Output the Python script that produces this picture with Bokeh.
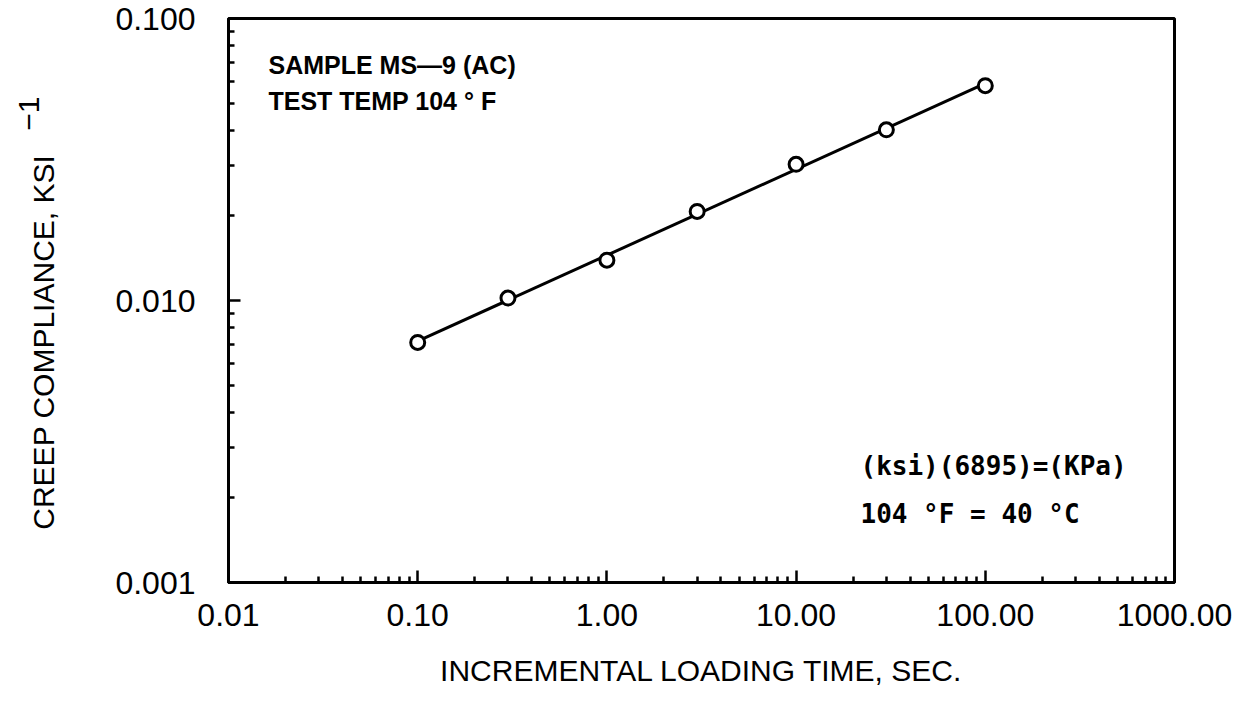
import numpy as np
from bokeh.plotting import figure
from bokeh.models import FixedTicker, PrintfTickFormatter, Label, Title
from bokeh.embed import file_html
from bokeh.resources import INLINE

# ---- data ----
loading_time_s = [0.1, 0.3, 1.0, 3.0, 10.0, 30.0, 100.0]
creep_compliance = [0.0071, 0.0102, 0.0139, 0.0207, 0.0304, 0.0403, 0.0578]
x_major_ticks = [0.01, 0.1, 1.0, 10.0, 100.0, 1000.0]
y_major_ticks = [0.001, 0.01, 0.1]
x_title = "INCREMENTAL LOADING TIME, SEC."
y_title = "CREEP COMPLIANCE, KSI"
y_title_sup = "\u22121"
note_left = ["SAMPLE MS\u20149 (AC)", "TEST TEMP 104 \u00b0 F"]
note_right = ["(ksi)(6895)=(KPa)", "104 \u00b0F = 40 \u00b0C"]

W, H = 1257, 721
L, R, T, B = 228, 83, 18, 139

p = figure(width=W, height=H, x_axis_type="log", y_axis_type="log",
           x_range=(0.01, 1000), y_range=(0.001, 0.1),
           output_backend="svg", toolbar_location=None,
           min_border_left=L, min_border_right=R, min_border_top=T, min_border_bottom=B,
           background_fill_color="white", border_fill_color="white")
p.grid.visible = False
p.outline_line_color = "black"
p.outline_line_width = 3


def minors(majors):
    out = []
    for m in majors[:-1]:
        out += [m * k for k in range(2, 10)]
    return out


p.xaxis.ticker = FixedTicker(ticks=x_major_ticks, minor_ticks=minors(x_major_ticks))
p.yaxis.ticker = FixedTicker(ticks=y_major_ticks, minor_ticks=minors(y_major_ticks))
p.xaxis.formatter = PrintfTickFormatter(format="%.2f")
p.yaxis.formatter = PrintfTickFormatter(format="%.3f")

for ax in (p.xaxis[0], p.yaxis[0]):
    ax.axis_line_width = 3
    ax.axis_line_color = "black"
    ax.major_tick_in = 12
    ax.major_tick_out = 0
    ax.minor_tick_in = 6
    ax.minor_tick_out = 0
    ax.major_tick_line_width = 2.5
    ax.minor_tick_line_width = 2.5
    ax.major_tick_line_color = "black"
    ax.minor_tick_line_color = "black"
    ax.major_label_text_font = "Liberation Sans"
    ax.major_label_text_font_size = "32px"
    ax.major_label_text_color = "black"
    ax.axis_label_text_font = "Liberation Sans"
    ax.axis_label_text_font_size = "30px"
    ax.axis_label_text_font_style = "normal"
    ax.axis_label_text_color = "black"

p.xaxis.major_label_standoff = 21
p.yaxis.major_label_standoff = 33
p.xaxis.axis_label = x_title
# trailing no-break spaces move the rotated title down along the axis
p.yaxis.axis_label = y_title + "\u00a0" * 10
p.xaxis.axis_label_standoff = 25
p.yaxis.axis_label_standoff = 52

# superscript of the y title, as a side title next to the axis label
p.add_layout(Title(text=y_title_sup, align="right", offset=78, vertical_align="bottom",
                   standoff=-28, text_font="Liberation Sans", text_font_size="30px",
                   text_font_style="normal", text_color="black"), "left")

# fitted power-law line through the points (log-log least squares)
lx = np.log10(loading_time_s)
ly = np.log10(creep_compliance)
slope, icpt = np.polyfit(lx, ly, 1)
fx = [loading_time_s[0], loading_time_s[-1]]
fy = [10 ** (icpt + slope * np.log10(v)) for v in fx]
p.line(fx, fy, line_color="black", line_width=3)

p.scatter(loading_time_s, creep_compliance, marker="circle", size=14,
          fill_color="white", line_color="black", line_width=3)

# annotations (screen units relative to the frame)
for i, t in enumerate(note_left):
    p.add_layout(Label(x=40, y=518 - 36 * i, x_units="screen", y_units="screen",
                       text=t, text_font="Liberation Sans", text_font_size="25px",
                       text_font_style="bold", text_color="black",
                       text_baseline="alphabetic"))
for i, t in enumerate(note_right):
    p.add_layout(Label(x=632, y=117 - 48 * i, x_units="screen", y_units="screen",
                       text=t, text_font="DejaVu Sans Mono", text_font_size="26px",
                       text_font_style="bold", text_color="black",
                       text_baseline="alphabetic"))

open("out.html", "w").write(file_html(p, INLINE))
